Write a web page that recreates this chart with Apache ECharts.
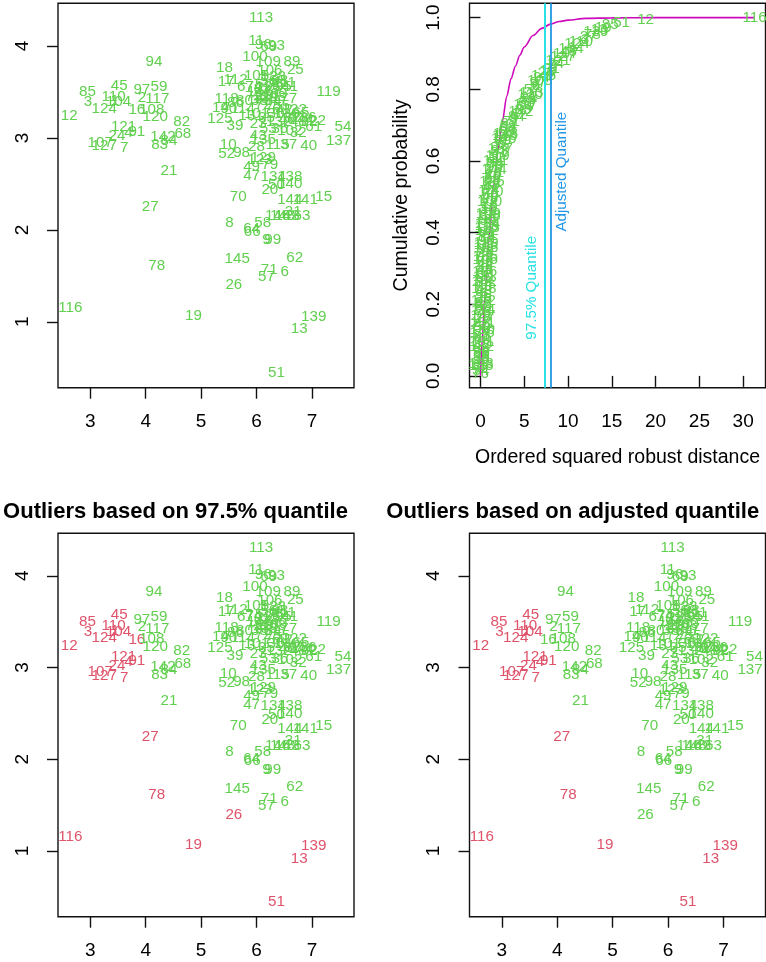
<!DOCTYPE html>
<html>
<head>
<meta charset="utf-8">
<script src="https://cdn.jsdelivr.net/npm/echarts@6/dist/echarts.min.js"></script>
<style>
  html, body { margin: 0; padding: 0; background: #ffffff; }
  #chart { width: 766px; height: 962px; }
</style>
</head>
<body>
<div id="chart"></div>
<script>
// Observation numbers and their two coordinates
const pointIds = [
  1, 2, 3, 4, 5, 6, 7, 8, 9, 10, 11, 12, 13, 14, 15, 16, 17, 18, 19, 20,
  21, 22, 23, 24, 25, 26, 27, 28, 29, 30, 31, 32, 33, 34, 35, 36, 37, 38, 39, 40,
  41, 42, 43, 44, 45, 46, 47, 48, 49, 50, 51, 52, 53, 54, 55, 56, 57, 58, 59, 60,
  61, 62, 63, 64, 65, 66, 67, 68, 69, 70, 71, 72, 73, 74, 75, 76, 77, 78, 79, 80,
  81, 82, 83, 84, 85, 86, 87, 88, 89, 90, 91, 92, 93, 94, 95, 96, 97, 98, 99, 100,
  101, 102, 103, 104, 105, 106, 107, 108, 109, 110, 111, 112, 113, 114, 115, 116, 117, 118, 119, 120,
  121, 122, 123, 124, 125, 126, 127, 128, 129, 130, 131, 132, 133, 134, 135, 136, 137, 138, 139, 140,
  141, 142, 143, 144, 145, 146, 147, 148
];
const xValues = [
  3.44, 3.93, 2.96, 3.69, 6.05, 6.51, 3.61, 5.51, 6.18, 5.49, 5.99, 2.62, 6.77, 5.35, 7.21, 3.84, 5.45, 5.42, 4.86, 6.24,
  4.42, 7.10, 6.03, 3.48, 6.70, 5.59, 4.08, 6.00, 6.15, 6.35, 6.66, 6.75, 6.25, 6.30, 6.18, 6.42, 6.58, 6.05, 5.61, 6.94,
  6.60, 6.50, 6.03, 6.88, 3.52, 6.55, 5.91, 6.75, 5.91, 6.36, 6.36, 5.46, 6.21, 7.56, 6.45, 6.22, 6.18, 6.11, 4.24, 6.40,
  7.03, 6.69, 6.82, 5.91, 6.80, 5.92, 5.80, 4.67, 6.22, 5.67, 6.23, 6.12, 5.95, 5.95, 6.35, 6.28, 6.58, 4.20, 6.24, 5.78,
  6.10, 4.65, 4.25, 4.42, 2.95, 5.62, 6.65, 6.42, 6.64, 5.50, 3.84, 6.95, 6.36, 4.15, 6.48, 6.12, 3.93, 5.73, 6.29, 5.97,
  6.00, 6.60, 6.30, 3.51, 6.00, 6.24, 3.18, 4.11, 6.21, 3.42, 6.50, 5.62, 6.08, 5.75, 6.38, 2.64, 4.21, 5.46, 7.30, 4.17,
  3.60, 6.68, 6.06, 3.25, 5.34, 6.20, 3.25, 6.30, 6.12, 6.55, 5.90, 6.40, 6.15, 6.30, 6.12, 6.85, 7.48, 6.60, 7.03, 6.60,
  6.88, 4.31, 6.55, 6.60, 5.65, 6.38, 6.05, 6.47
];
const yValues = [
  3.40, 3.44, 3.39, 3.06, 3.58, 1.54, 2.89, 2.08, 1.89, 2.93, 4.06, 3.24, 0.92, 3.33, 2.36, 3.30, 3.61, 3.76, 1.07, 2.43,
  2.64, 3.19, 3.15, 3.02, 3.74, 1.40, 2.25, 2.90, 3.47, 3.26, 2.20, 3.05, 3.52, 3.40, 3.22, 3.10, 2.92, 3.40, 3.13, 2.91,
  3.55, 3.30, 3.02, 3.20, 3.57, 3.20, 2.59, 3.18, 2.69, 2.49, 0.45, 2.83, 3.10, 3.12, 3.35, 3.62, 1.49, 2.08, 3.55, 3.48,
  3.12, 1.70, 2.15, 2.01, 3.27, 1.98, 3.55, 3.04, 3.99, 2.36, 1.57, 3.36, 3.45, 3.56, 3.58, 3.30, 3.42, 1.61, 2.71, 3.40,
  3.53, 3.18, 2.92, 2.97, 3.50, 3.38, 3.22, 3.62, 3.83, 3.32, 3.07, 3.18, 4.00, 3.83, 3.55, 4.01, 3.52, 2.84, 1.89, 3.88,
  3.26, 3.08, 3.45, 3.39, 3.67, 3.73, 2.95, 3.31, 3.83, 3.45, 3.60, 3.63, 4.31, 3.32, 2.92, 1.15, 3.42, 3.43, 3.50, 3.23,
  3.12, 3.31, 2.76, 3.32, 3.21, 3.55, 2.91, 3.66, 2.78, 3.26, 3.24, 3.18, 3.42, 2.58, 2.98, 3.22, 2.97, 2.58, 1.06, 2.50,
  2.33, 3.01, 2.15, 2.33, 1.68, 2.15, 3.50, 2.15
];
// Squared robust (Mahalanobis) distance of each observation
const sqRobustDist = [
  10.62, 6.13, 11.95, 8.32, 0.37, 2.42, 9.12, 6.35, 3.83, 0.97, 1.85, 18.86, 13.57, 1.21, 2.34, 7.70, 0.95, 1.50, 14.02, 1.45,
  5.55, 1.00, 0.27, 8.61, 1.06, 7.52, 12.31, 0.59, 0.09, 0.07, 2.08, 0.50, 0.13, 0.03, 0.10, 0.34, 0.68, 0.12, 0.82, 0.92,
  0.57, 0.14, 0.48, 0.51, 10.05, 0.23, 1.24, 0.38, 1.10, 1.13, 16.12, 1.41, 0.22, 1.67, 0.10, 0.30, 5.92, 3.13, 5.41, 0.16,
  0.71, 4.38, 3.05, 5.02, 0.44, 5.27, 0.46, 2.96, 1.36, 1.62, 3.55, 0.04, 0.18, 0.41, 0.28, 0.01, 0.26, 12.76, 0.69, 0.31,
  0.17, 3.22, 4.84, 4.12, 14.81, 0.53, 0.32, 0.40, 1.28, 0.66, 8.10, 0.60, 2.17, 6.98, 0.36, 1.58, 6.58, 0.84, 2.55, 1.03,
  0.15, 0.43, 0.06, 10.34, 0.54, 0.62, 9.73, 6.77, 0.89, 11.47, 0.45, 0.73, 5.80, 0.29, 0.63, 31.30, 5.14, 0.77, 1.96, 5.66,
  8.85, 0.33, 0.75, 11.02, 1.32, 0.19, 9.41, 0.39, 0.65, 0.21, 0.24, 0.13, 0.04, 0.80, 0.56, 0.47, 2.26, 0.87, 13.18, 1.17,
  1.72, 4.61, 2.87, 1.54, 7.21, 2.66, 0.27, 2.78
];
// Cut-offs for the outlier decision
const quantile975 = 7.38;
const adjustedQuantile = 7.98;
// Chi-square (2 df) distribution function, sampled along the distance axis
const chiSqGridX = [0, 0.2, 0.5, 1, 1.5, 2, 2.5, 3, 3.5, 4, 4.5, 5, 6, 7, 8, 9, 10, 12, 15, 20, 31.3];
const chiSqGridCdf = [0, 0.10, 0.22, 0.39, 0.53, 0.63, 0.71, 0.78, 0.83, 0.865, 0.895, 0.918, 0.950, 0.970, 0.982, 0.989, 0.993, 0.998, 0.9994, 1, 1];
// Tick positions
const scatterXTicks = [3, 4, 5, 6, 7];
const scatterYTicks = [1, 2, 3, 4];
const distTicks = [0, 5, 10, 15, 20, 25, 30];
const probTicks = [0, 0.2, 0.4, 0.6, 0.8, 1.0];

const FONT = 'Liberation Sans, Arial, Helvetica, sans-serif';
const GREEN = '#61D04F';
const RED = '#DF536B';
const CYAN = '#28E2E5';
const BLUE = '#2297E6';
const MAGENTA = '#CD0BBC';

const n = pointIds.length;

// Empirical distribution of the ordered squared distances
const order = pointIds.map((_, i) => i).sort((a, b) => sqRobustDist[a] - sqRobustDist[b]);
const ecdfData = order.map((idx, r) => ({
  name: String(pointIds[idx]),
  value: [sqRobustDist[idx], (r + 1) / n]
}));

function labelledPoints(cut) {
  return pointIds.map((id, i) => ({
    name: String(id),
    value: [xValues[i], yValues[i]],
    label: { color: (cut !== null && sqRobustDist[i] > cut) ? RED : GREEN }
  }));
}

const chiSqCurve = chiSqGridX.map((x, i) => [x, chiSqGridCdf[i]]);

const grids = [
  { left: 58, top: 3.3, width: 296, height: 384.4 },
  { left: 469.5, top: 3.3, width: 296, height: 384.4 },
  { left: 58, top: 533.3, width: 296, height: 383.4 },
  { left: 469.5, top: 533.3, width: 296, height: 383.4 }
].map(g => Object.assign({
  show: true, borderColor: '#111', borderWidth: 1.4, backgroundColor: 'transparent',
  containLabel: false, outerBoundsMode: 'none'
}, g));

function tickAxis(gridIndex, min, max, ticks, isY, fmt) {
  return {
    type: 'value', gridIndex, min, max,
    axisLine: { show: false },
    splitLine: { show: false },
    axisTick: { show: true, inside: false, length: 11, customValues: ticks, lineStyle: { color: '#111', width: 1.4 } },
    axisLabel: {
      show: true, customValues: ticks, fontSize: 19, color: '#000', fontFamily: FONT,
      margin: isY ? 26 : 25, rotate: isY ? 90 : 0,
      formatter: fmt || (v => String(v))
    }
  };
}

const xAxes = [
  tickAxis(0, 2.417, 7.758, scatterXTicks, false),
  Object.assign(tickAxis(1, -1.25, 32.55, distTicks, false), {
    name: 'Ordered squared robust distance', nameLocation: 'middle', nameGap: 60,
    nameTextStyle: { fontSize: 19.5, color: '#000', fontFamily: FONT }
  }),
  tickAxis(2, 2.417, 7.758, scatterXTicks, false),
  tickAxis(3, 2.417, 7.758, scatterXTicks, false)
];
const yAxes = [
  tickAxis(0, 0.284, 4.463, scatterYTicks, true),
  Object.assign(tickAxis(1, -0.033, 1.040, probTicks, true, v => v.toFixed(1)), {
    name: 'Cumulative probability', nameLocation: 'middle', nameGap: 58, nameRotate: 90,
    nameTextStyle: { fontSize: 19.5, color: '#000', fontFamily: FONT }
  }),
  tickAxis(2, 0.284, 4.463, scatterYTicks, true),
  tickAxis(3, 0.284, 4.463, scatterYTicks, true)
];

function textSeries(gridIndex, data, extraLabel) {
  return {
    type: 'scatter', xAxisIndex: gridIndex, yAxisIndex: gridIndex, data,
    symbolSize: 2, itemStyle: { color: 'rgba(0,0,0,0)', opacity: 1 },
    label: Object.assign({ show: true, position: 'inside', formatter: '{b}', fontSize: 15.2,
      fontFamily: FONT, color: GREEN, opacity: 1 }, extraLabel || {}),
    emphasis: { disabled: true }, silent: true, z: 3, animation: false
  };
}

const option = {
  animation: false,
  backgroundColor: '#ffffff',
  textStyle: { fontFamily: FONT },
  title: [
    { text: 'Outliers based on 97.5% quantile', left: 175.5, top: 501, textAlign: 'center', padding: 0,
      textStyle: { fontSize: 22, fontWeight: 'bold', color: '#000', fontFamily: FONT } },
    { text: 'Outliers based on adjusted quantile', left: 572.7, top: 501, textAlign: 'center', padding: 0,
      textStyle: { fontSize: 22, fontWeight: 'bold', color: '#000', fontFamily: FONT } }
  ],
  grid: grids,
  xAxis: xAxes,
  yAxis: yAxes,
  series: [
    textSeries(0, labelledPoints(null)),
    {
      type: 'line', xAxisIndex: 1, yAxisIndex: 1, data: chiSqCurve,
      smooth: 0.3, smoothMonotone: 'x', showSymbol: false, symbol: 'none',
      lineStyle: { color: MAGENTA, width: 1.6 }, silent: true, z: 2,
      markLine: {
        silent: true, symbol: 'none', animation: false,
        label: { show: false },
        data: [
          { xAxis: quantile975, lineStyle: { color: CYAN, width: 2, type: 'solid' } },
          { xAxis: adjustedQuantile, lineStyle: { color: BLUE, width: 1.8, type: 'solid' } }
        ]
      }
    },
    textSeries(1, ecdfData),
    textSeries(1, [
      { name: '97.5% Quantile', value: [5.86, 0.246], label: { color: CYAN } },
      { name: 'Adjusted Quantile', value: [9.28, 0.570], label: { color: BLUE } }
    ], { rotate: 90 }),
    textSeries(2, labelledPoints(quantile975)),
    textSeries(3, labelledPoints(adjustedQuantile))
  ]
};

const chart = echarts.init(document.getElementById('chart'), null, { renderer: 'canvas', width: 766, height: 962 });
chart.setOption(option);
</script>
</body>
</html>
